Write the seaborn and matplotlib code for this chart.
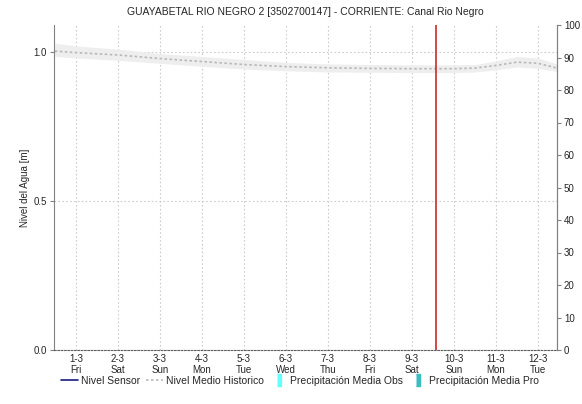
import numpy as np
import pandas as pd
import matplotlib
matplotlib.use("Agg")
import matplotlib.pyplot as plt
import seaborn as sns
from matplotlib.lines import Line2D

# Data (x in days since 1-3)
day_labels = ['1-3\nFri', '2-3\nSat', '3-3\nSun', '4-3\nMon', '5-3\nTue', '6-3\nWed',
              '7-3\nThu', '8-3\nFri', '9-3\nSat', '10-3\nSun', '11-3\nMon', '12-3\nTue']
x_days = [-0.5, 0, 1, 2, 3, 4, 5, 6, 7, 8, 9, 9.5, 10, 10.5, 11, 11.45]
nivel_hist = [1.003, 0.998, 0.99, 0.978, 0.968, 0.958, 0.951, 0.947, 0.945, 0.944, 0.944,
              0.946, 0.955, 0.966, 0.962, 0.946]
banda_sup = [1.03, 1.02, 1.01, 0.995, 0.985, 0.975, 0.965, 0.96, 0.958, 0.957, 0.957,
             0.958, 0.97, 0.985, 0.98, 0.96]
banda_inf = [0.985, 0.98, 0.972, 0.962, 0.952, 0.943, 0.937, 0.933, 0.932, 0.931, 0.931,
             0.933, 0.94, 0.95, 0.945, 0.935]
ahora = 8.57

sns.set_style("white")
plt.rcParams['font.family'] = ['Liberation Sans', 'DejaVu Sans']

df = pd.DataFrame({'dia': x_days, 'nivel': nivel_hist})

fig = plt.figure(figsize=(5.82, 4.04), dpi=100)
ax = fig.add_axes([54 / 582, 1 - 350 / 404, (557 - 54) / 582, (350 - 25) / 404])

ax.fill_between(x_days, banda_inf, banda_sup, color='#eeeeee', lw=0)
sns.lineplot(data=df, x='dia', y='nivel', ax=ax, color='#b8b8b8', lw=1.2,
             linestyle=(0, (1.5, 1.5)))
ax.axvline(ahora, color='#cc2a2a', lw=1.2)

ax.set_xlim(-0.52, 11.45)
ax.set_ylim(0, (350 - 25) / 298)
ax.set_xticks(range(len(day_labels)))
ax.set_xticklabels(day_labels, fontsize=7, linespacing=1.1)
ax.set_yticks([0.0, 0.5, 1.0])
ax.set_yticklabels(['0.0', '0.5', '1.0'], fontsize=7)
ax.set_xlabel('')
ax.set_ylabel('Nivel del Agua [m]', fontsize=7, labelpad=3)
ax.tick_params(axis='x', length=0, pad=3)
ax.tick_params(axis='y', length=3, width=0.8, color='#808080', direction='out', pad=2)
ax.grid(True, color='#cccccc', linestyle=(0, (1.5, 2)), lw=0.8)

ax.spines['top'].set_visible(False)
ax.spines['left'].set_color('#808080')
ax.spines['right'].set_color('#808080')
ax.spines['bottom'].set_linestyle((0, (1.5, 1.5)))
ax.spines['bottom'].set_color('#606060')

ax2 = ax.twinx()
ax2.set_ylim(0, 100)
ax2.set_yticks(range(0, 101, 10))
ax2.tick_params(axis='y', length=3, width=0.8, color='#808080', labelsize=7, pad=2)
for s in ['top', 'left', 'bottom']:
    ax2.spines[s].set_visible(False)
ax2.spines['right'].set_color('#808080')

ax.set_title('GUAYABETAL RIO NEGRO 2 [3502700147] - CORRIENTE: Canal Rio Negro',
             fontsize=7.5, pad=7)

barra = [(-0.35, -1), (0.35, -1), (0.35, 1), (-0.35, 1)]
handles = [
    Line2D([], [], color='#1a1a80', lw=1.2),
    Line2D([], [], color='#b8b8b8', lw=1.2, linestyle=(0, (1.5, 1.5))),
    Line2D([], [], lw=0, marker=barra, markersize=9, color='#66ffff'),
    Line2D([], [], lw=0, marker=barra, markersize=9, color='#3cbcbc'),
]
labels = ['Nivel Sensor', 'Nivel Medio Historico', 'Precipitación Media Obs',
          'Precipitación Media Pro']
fig.legend(handles, labels, loc='center', bbox_to_anchor=(300 / 582, 1 - 381 / 404),
           ncol=4, frameon=False, fontsize=7.5, handlelength=1.6, handletextpad=0.3,
           columnspacing=0.6)

fig.savefig('out.png', dpi=100)
